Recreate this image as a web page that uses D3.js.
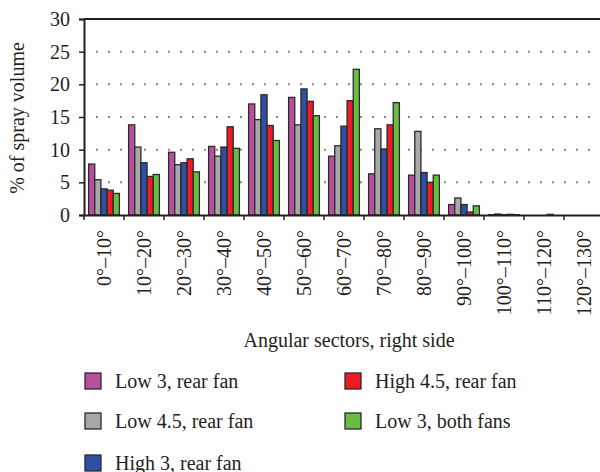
<!DOCTYPE html>
<html>
<head>
<meta charset="utf-8">
<script src="https://cdn.jsdelivr.net/npm/d3@7"></script>
<style>
body{margin:0;background:#fff;}
svg text{font-family:"Liberation Serif","DejaVu Serif",serif;fill:#231f20;}
</style>
</head>
<body>
<svg id="c" width="600" height="472"></svg>
<script>
const categories = ["0°–10°","10°–20°","20°–30°","30°–40°","40°–50°","50°–60°","60°–70°","70°–80°","80°–90°","90°–100°","100°–110°","110°–120°","120°–130°"];
const seriesNames = ["Low 3, rear fan","Low 4.5, rear fan","High 3, rear fan","High 4.5, rear fan","Low 3, both fans"];
const low3Rear   = [7.8,13.8,9.6,10.5,17.0,18.0,9.0,6.3,6.1,1.6,0.05,0,0];
const low45Rear  = [5.4,10.4,7.7,9.0,14.6,13.8,10.6,13.2,12.8,2.6,0.15,0,0];
const high3Rear  = [4.0,8.0,8.0,10.4,18.4,19.3,13.6,10.1,6.5,1.6,0.05,0,0];
const high45Rear = [3.8,5.9,8.6,13.5,13.7,17.4,17.5,13.8,5.0,0.45,0.1,0.1,0];
const low3Both   = [3.3,6.2,6.6,10.2,11.4,15.2,22.3,17.2,6.1,1.4,0.05,0,0];
const yTicks = [0,5,10,15,20,25,30];
const colors = ["#b9509f","#a7a8aa","#2f4fa2","#ed1c24","#69bd45"];
const series = [low3Rear, low45Rear, high3Rear, high45Rear, low3Both];

const svg = d3.select("#c");
const mLeft = 84, mRight = 604, mTop = 19, mBottom = 215;
const x = d3.scaleBand().domain(categories).range([mLeft, mRight]).paddingInner(0.23).paddingOuter(0.115);
const band = d3.scaleBand().domain(d3.range(series.length)).range([0, x.bandwidth()]);
const y = d3.scaleLinear().domain([0,30]).range([mBottom, mTop]);

// gridlines
svg.append("g").selectAll("line").data(yTicks.filter(t => t > 0 && t < 30)).join("line")
  .attr("x1", mLeft + 12).attr("x2", mRight).attr("y1", d => y(d)).attr("y2", d => y(d))
  .attr("stroke", "#8a8a8a").attr("stroke-width", 2).attr("stroke-dasharray", "2,10");

// bars
const g = svg.append("g");
series.forEach((vals, si) => {
  g.append("g").selectAll("rect").data(vals.map((v, i) => ({c: categories[i], v}))).join("rect")
    .attr("x", d => x(d.c) + band(si))
    .attr("width", band.bandwidth())
    .attr("y", d => y(d.v))
    .attr("height", d => y(0) - y(d.v))
    .attr("fill", colors[si])
    .attr("stroke", "#2a2a2a").attr("stroke-width", 1.3);
});

// top frame line
svg.append("line").attr("x1", mLeft).attr("x2", mRight).attr("y1", y(30)).attr("y2", y(30))
  .attr("stroke", "#231f20").attr("stroke-width", 2);

// y axis
const yAxis = svg.append("g").attr("transform", `translate(${mLeft},0)`)
  .call(d3.axisLeft(y).tickValues(yTicks).tickSize(5).tickPadding(9));
yAxis.attr("font-family", null);
yAxis.select(".domain").attr("stroke", "#231f20").attr("stroke-width", 2);
yAxis.selectAll(".tick line").attr("stroke", "#231f20").attr("stroke-width", 1.5);
yAxis.selectAll("text").attr("font-size", 20).attr("fill", "#231f20");

// x axis
const xAxis = svg.append("g").attr("transform", `translate(0,${mBottom})`)
  .call(d3.axisBottom(x).tickSize(0).tickPadding(0));
xAxis.attr("font-family", null);
xAxis.select(".domain").attr("stroke", "#231f20").attr("stroke-width", 2);
xAxis.selectAll(".tick text")
  .attr("font-size", 20).attr("fill", "#231f20")
  .attr("text-anchor", "end").attr("dy", "0.35em").attr("x", -15).attr("y", 0)
  .attr("transform", "rotate(-90)");
// boundary ticks
const bounds = categories.map(c => x(c) - x.step() * x.paddingInner() / 2);
svg.append("g").selectAll("line").data(bounds).join("line")
  .attr("x1", d => d).attr("x2", d => d).attr("y1", mBottom).attr("y2", mBottom + 5)
  .attr("stroke", "#231f20").attr("stroke-width", 1.5);

// y label
svg.append("text").attr("transform", `translate(24,${(mTop + mBottom) / 2 + 1}) rotate(-90)`)
  .attr("text-anchor", "middle").attr("font-size", 20).text("% of spray volume");

// x label
svg.append("text").attr("x", 349).attr("y", 347).attr("text-anchor", "middle")
  .attr("font-size", 20).text("Angular sectors, right side");

// legend
const legPos = [[85,373],[85,413],[85,455],[345,373],[345,413]];
const leg = svg.append("g");
seriesNames.forEach((name, si) => {
  const [lx, ly] = legPos[si];
  leg.append("rect").attr("x", lx).attr("y", ly).attr("width", 16).attr("height", 16)
    .attr("fill", colors[si]).attr("stroke", "#2a2a2a").attr("stroke-width", 1.3);
  leg.append("text").attr("x", lx + 30).attr("y", ly + 15).attr("font-size", 20).text(name);
});
</script>
</body>
</html>
